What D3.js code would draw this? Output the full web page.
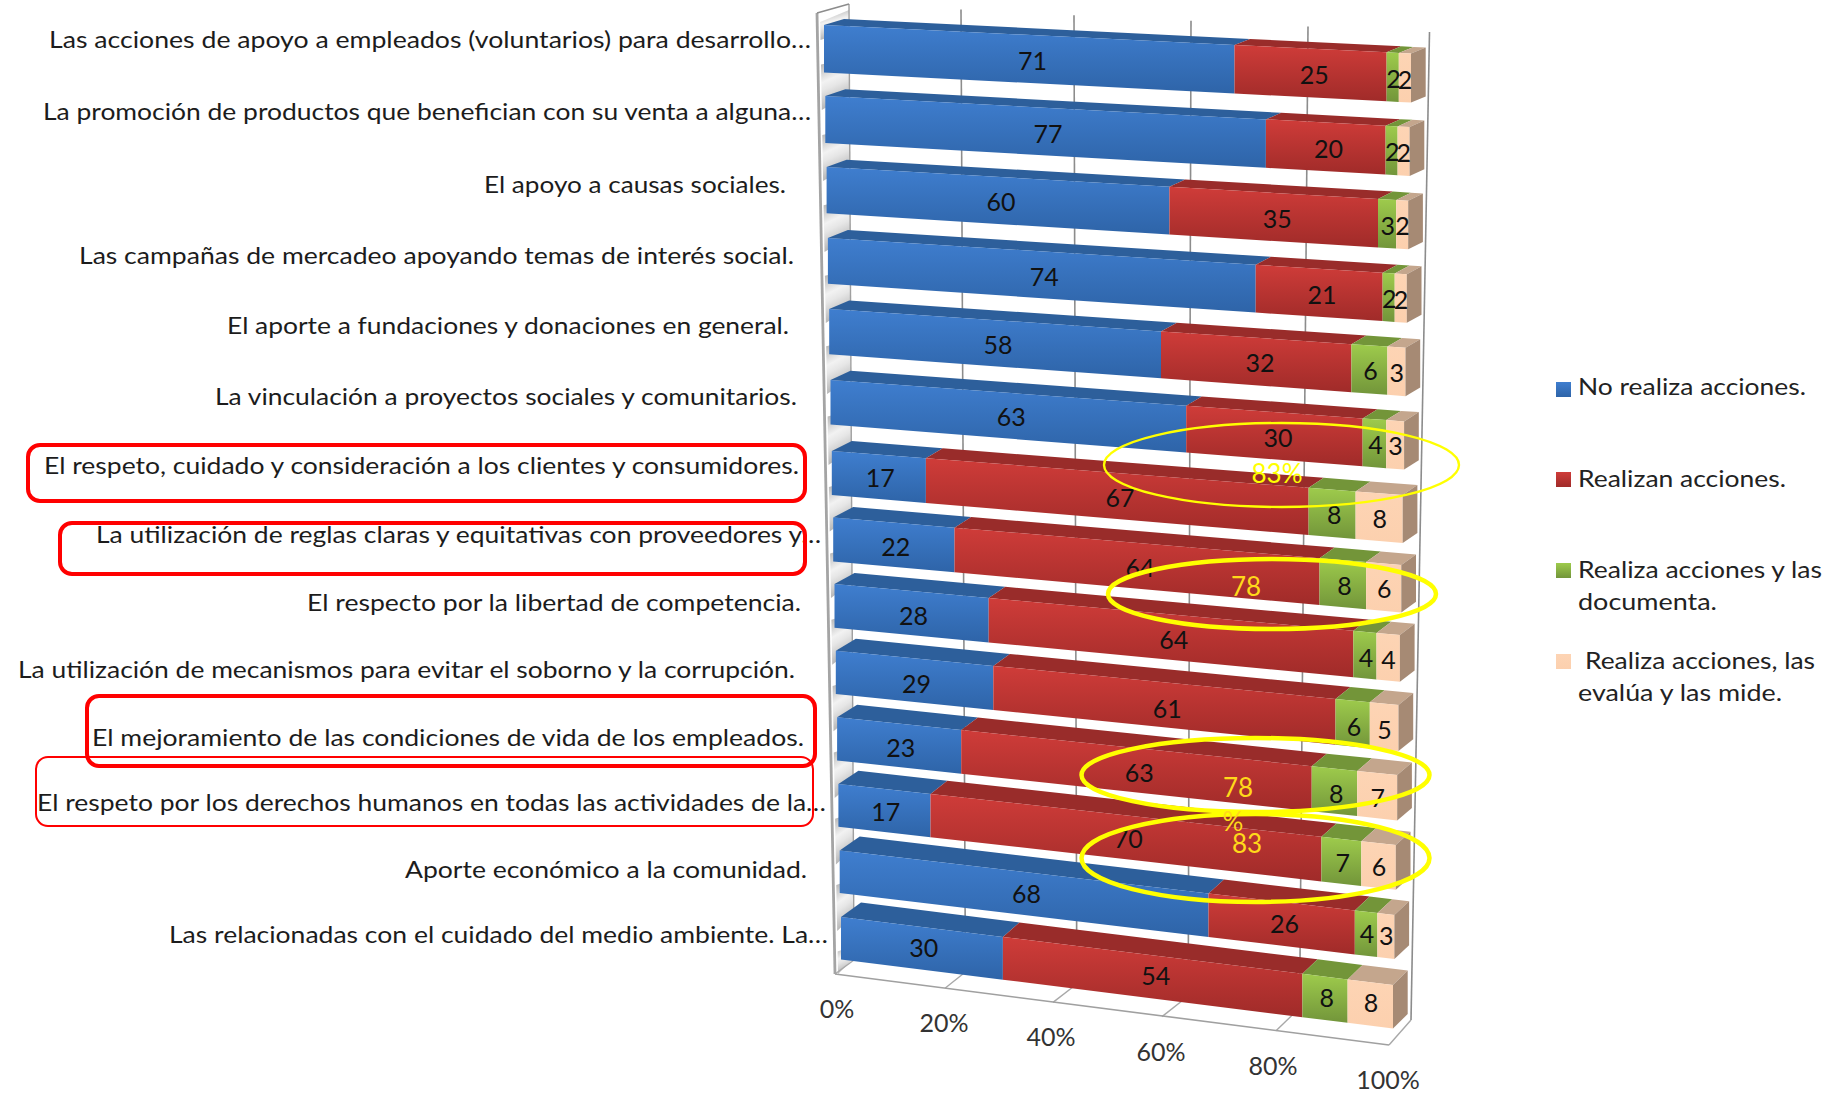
<!DOCTYPE html>
<html><head><meta charset="utf-8">
<script src="https://cdnjs.cloudflare.com/ajax/libs/d3/7.8.5/d3.min.js"></script>
<style>html,body{margin:0;padding:0;background:#fff}svg{display:block}text{font-family:Lato,"Open Sans",sans-serif}</style>
</head><body><svg id="c" width="1832" height="1093"></svg>
<script>
// ---------- data ----------
const categories = [
 "Las acciones de apoyo a empleados (voluntarios) para desarrollo…",
 "La promoción de productos que benefician con su venta a alguna…",
 "El apoyo a causas sociales.",
 "Las campañas de mercadeo apoyando temas de interés social.",
 "El aporte a fundaciones y donaciones en general.",
 "La vinculación a proyectos sociales y comunitarios.",
 "El respeto, cuidado y consideración a los clientes y consumidores.",
 "La utilización de reglas claras y equitativas con proveedores y…",
 "El respecto por la libertad de competencia.",
 "La utilización de mecanismos para evitar el soborno y la corrupción.",
 "El mejoramiento de las condiciones de vida de los empleados.",
 "El respeto por los derechos humanos en todas las actividades de la…",
 "Aporte económico a la comunidad.",
 "Las relacionadas con el cuidado del medio ambiente. La…"];
const noRealiza = [71,77,60,74,58,63,17,22,28,29,23,17,68,30];
const realizan  = [25,20,35,21,32,30,67,64,64,61,63,70,26,54];
const documenta = [2,2,3,2,6,4,8,8,4,6,8,7,4,8];
const evalua    = [2,2,2,2,3,3,8,6,4,5,7,6,3,8];
const tickValues = [0,20,40,60,80,100];
const tickLabels = ["0%","20%","40%","60%","80%","100%"];

// ---------- layout ----------
const labelLeft  = [49,43,484,79,227,215,44,96,307,18,92,37,405,169];
const labelRight = [811,811,786,794,789,797,799,821,801,795,804,826,807,828];
const labelBase  = [48,120,193,264,334,405,474,543,611,678,746,811,878,943];
const svg = d3.select("#c");
const defs = svg.append("defs");
function grad(id,a,b,x2=0,y2=1){const g=defs.append("linearGradient").attr("id",id).attr("x1",0).attr("y1",0).attr("x2",x2).attr("y2",y2);
 g.append("stop").attr("offset",0).attr("stop-color",a);g.append("stop").attr("offset",1).attr("stop-color",b);}
const styles = [
 {key:"a",name:"No realiza acciones.",top:"#2d5f9b",a:"#3f7ecf",b:"#2e64a8"},
 {key:"b",name:"Realizan acciones.",top:"#992c2a",a:"#cf3c39",b:"#a02b29"},
 {key:"c",name:"Realiza acciones y las documenta.",top:"#739539",a:"#9ecb4c",b:"#72953a"},
 {key:"d",name:"Realiza acciones, las evalúa y las mide.",top:"#c4a68d",a:"#fdd4b4",b:"#fcd0ae"}];
styles.forEach(s=>grad("g"+s.key,s.a,s.b));
{
 const w=defs.append("linearGradient").attr("id","wall").attr("x1",0).attr("y1",0).attr("x2",.25).attr("y2",1);
 [[0,"#a6a6a6"],[.45,"#f2f2f2"],[.6,"#e6e6e6"],[1,"#b0b0b0"]].forEach(s=>w.append("stop").attr("offset",s[0]).attr("stop-color",s[1]));
}

// scales
const rowStops=[0,6,13];
const leftTop = d3.scaleLinear(rowStops,[25,451,917]);
const leftBot = d3.scaleLinear(rowStops,[72.5,495,959.5]);
const rightTop= d3.scaleLinear(rowStops,[53.5,495,985]);
const rightBot= d3.scaleLinear(rowStops,[102.5,543,1028.5]);
const leftX   = d3.scaleLinear([0,13],[824,841]);
const rightX  = d3.scaleLinear([0,13],[1411,1393]);
const depthY  = d3.scaleLinear([0,13],[6,14.5]);
const depthX  = d3.scaleLinear([0,.1,1],[20,17,14.7]);
const persp   = d3.scaleLinear([0,.2,.3,.6,.7,.85,.95,1],[0,.007,.009,.011,.011,.005,.002,0]);
const rowFade = d3.scaleLinear([0,13],[1,.75]);
const lerp=(a,b,t)=>a+(b-a)*t;
const warp=(v,i)=>v-persp(v)*rowFade(i);
function flat(w,i,f){
 const t=lerp(leftTop(i),rightTop(i),w), b=lerp(leftBot(i),rightBot(i),w);
 return [lerp(leftX(i),rightX(i),w), lerp(t,b,f)];
}
const P=(v,i,f)=>flat(warp(v,i),i,f);
function Back(v,i,f){
 const p=P(v,i,f); return [p[0]+depthX(v), p[1]-depthY(i)];
}
const path=pts=>"M"+pts.map(p=>p[0].toFixed(1)+","+p[1].toFixed(1)).join("L")+"Z";

// stack
const table = categories.map((c,i)=>({a:noRealiza[i],b:realizan[i],c:documenta[i],d:evalua[i]}));
const stacked = d3.stack().keys(["a","b","c","d"]).offset(d3.stackOffsetExpand)(table);

// walls
const grid = svg.append("g");
const wallTop=[817,13], wallBackTop=[849,4], wallBackBot=[854,960], wallFrontBot=[835,974];
const gridTopX=d3.scaleLinear(tickValues,[849,961,1074,1191,1308,1429.5]);
const gridTopY=d3.scaleLinear([0,100],[4,32]);
const floorBackX=d3.scaleLinear([0,100],[854,1411]);
const floorBackY=d3.scaleLinear([0,100],[960,1020]);
const floorFrontX=d3.scaleLinear(tickValues,[835,945,1053,1162,1276,1389]);
const floorFrontY=d3.scaleLinear([0,100],[974,1045]);
const wy=d3.scaleLinear([13,974],[0,1]);
const xa=y=>lerp(817,835,wy(y))+3, xb=y=>lerp(849,854,wy(y));
grid.append("path").attr("d",path([[xa(22),22],[xb(12),10],[xb(32),30],[xa(42),40]])).attr("fill","url(#wall)");
d3.range(14).forEach(i=>{
 const y0=leftBot(i)-8, y1=i<13?leftTop(i+1)+14:974;
 grid.append("path").attr("d",path([[xa(y0),y0],[xb(y0),y0-6],[xb(y1),y1-16],[xa(y1),y1]])).attr("fill","url(#wall)");
});
tickValues.filter(v=>v>0).forEach(v=>{
 grid.append("line").attr("x1",gridTopX(v)).attr("y1",gridTopY(v)).attr("x2",floorBackX(v)).attr("y2",floorBackY(v))
  .attr("stroke","#8c8c8c").attr("stroke-width",1.6);
});
grid.append("line").attr("x1",wallBackTop[0]).attr("y1",wallBackTop[1]).attr("x2",wallBackBot[0]).attr("y2",wallBackBot[1]).attr("stroke","#a0a0a0").attr("stroke-width",1.4);
tickValues.forEach(v=>{
 grid.append("line").attr("x1",floorFrontX(v)).attr("y1",floorFrontY(v)).attr("x2",floorBackX(v)).attr("y2",floorBackY(v)).attr("stroke","#a8a8a8").attr("stroke-width",1.4);
});
grid.append("line").attr("x1",floorFrontX(0)).attr("y1",floorFrontY(0)).attr("x2",floorFrontX(100)).attr("y2",floorFrontY(100)).attr("stroke","#a0a0a0").attr("stroke-width",1.6);
grid.append("line").attr("x1",wallTop[0]).attr("y1",wallTop[1]).attr("x2",wallFrontBot[0]).attr("y2",wallFrontBot[1]).attr("stroke","#a4a4a4").attr("stroke-width",2.8);
grid.append("polyline").attr("points",[wallTop,wallBackTop].join(" ")).attr("fill","none").attr("stroke","#8c8c8c").attr("stroke-width",1.6);

// bars
const bars=svg.append("g");
d3.range(14).forEach(i=>{
 const g=bars.append("g");
 stacked.forEach((layer,k)=>{
  const [v0,v1]=layer[i], st=styles[k];
  g.append("path").attr("d",path([P(v0,i,0),P(v1,i,0),Back(v1,i,0),Back(v0,i,0)])).attr("fill",st.top);
  g.append("path").attr("d",path([P(v0,i,0),P(v1,i,0),P(v1,i,1),P(v0,i,1)])).attr("fill",`url(#g${st.key})`);
 });
 g.append("path").attr("d",path([P(1,i,0),Back(1,i,0),Back(1,i,1),P(1,i,1)])).attr("fill","#a68a74");
});
// data labels
const dl=svg.append("g").attr("text-anchor","middle").attr("font-size",25).attr("fill","#111");
const labelDrop=d3.scaleLinear([0,6,9,13],[11,10.5,12.5,8]);
d3.range(14).forEach(i=>{
 stacked.forEach(layer=>{
  const [v0,v1]=layer[i], p=flat((v0+v1)/2,i,.5);
  dl.append("text").attr("x",p[0]).attr("y",p[1]+labelDrop(i)).text(table[i][layer.key]);
 });
});

// category labels
const cl=svg.append("g").attr("font-size",23).attr("fill","#1c1c1c");
categories.forEach((c,i)=>{
 cl.append("text").attr("x",labelLeft[i]).attr("y",labelBase[i]).attr("textLength",labelRight[i]-labelLeft[i]).attr("lengthAdjust","spacingAndGlyphs").text(c);
});
// tick labels
const tickX=d3.scaleLinear(tickValues,[837,944,1051,1161,1273,1388]);
const tickY=d3.scaleLinear([0,100],[1018,1089]);
const tl=svg.append("g").attr("font-size",25).attr("fill","#333").attr("text-anchor","middle");
tickValues.forEach((v,i)=>tl.append("text").attr("x",tickX(v)).attr("y",tickY(v)).text(tickLabels[i]));

// legend
const legend=svg.append("g").attr("font-size",23.5).attr("fill","#222");
const swatchY=[382,472,563,654];
const legendLines=[
 [["No realiza acciones.",1578,1806,395]],
 [["Realizan acciones.",1578,1786,487]],
 [["Realiza acciones y las",1578,1822,578],["documenta.",1578,1717,610]],
 [["Realiza acciones, las",1585,1815,669],["evalúa y las mide.",1578,1782,701]]];
styles.forEach((s,k)=>{
 legend.append("rect").attr("x",1556).attr("y",swatchY[k]).attr("width",15).attr("height",15).attr("fill",`url(#g${s.key})`);
 legendLines[k].forEach(l=>legend.append("text").attr("x",l[1]).attr("y",l[3]).attr("textLength",l[2]-l[1]).attr("lengthAdjust","spacingAndGlyphs").text(l[0]));
});

// annotations
const ann=svg.append("g").attr("fill","none");
[[28,445,777,56,4],[60,523,745,51,4],[87,696,728,70,4],[36,757,777,69,2]].forEach(r=>
 ann.append("rect").attr("x",r[0]).attr("y",r[1]).attr("width",r[2]).attr("height",r[3]).attr("rx",12).attr("stroke","#ff0000").attr("stroke-width",r[4]));
[[1281.5,465,177.5,42,2.4],[1272,594,164,35,4.5],[1255.5,775,174,37,4.5],[1255.5,858,174,44,4.5]].forEach(e=>
 ann.append("ellipse").attr("cx",e[0]).attr("cy",e[1]).attr("rx",e[2]).attr("ry",e[3]).attr("stroke","#ffff00").attr("stroke-width",e[4]));
const yt=svg.append("g").attr("font-size",26).attr("text-anchor","middle");
[["83%",1277,483,"#ffff00"],["78",1246,596,"#ffd91a"],["78",1238,797,"#ffd91a"],["%",1233,831,"#ffd91a"],["83",1247,853,"#ffd91a"]].forEach(t=>
 yt.append("text").attr("x",t[1]).attr("y",t[2]).attr("fill",t[3]).text(t[0]));
</script></body></html>
